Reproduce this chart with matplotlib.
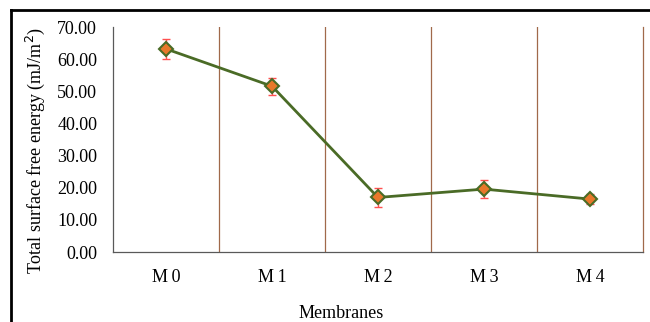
import matplotlib.pyplot as plt
from matplotlib.lines import Line2D

plt.rcParams['font.family'] = ['Liberation Serif', 'DejaVu Serif']

membranes = ["M0", "M1", "M2", "M3", "M4"]
energy = [63.2, 51.6, 17.0, 19.6, 16.5]
err = [3.0, 2.7, 3.0, 2.8, 1.6]

fig = plt.figure(figsize=(6.5, 3.22), dpi=100)
ax = fig.add_axes([0.174, 0.217, 0.815, 0.699])

x = list(range(len(membranes)))
ax.errorbar(x, energy, yerr=err, fmt="none", ecolor="#ff5050", elinewidth=1,
            capsize=3, capthick=1, zorder=2)
ax.plot(x, energy, color="#4a6b26", lw=2, marker="D", markersize=7,
        markerfacecolor="#e8782a", markeredgecolor="#4a6b26", markeredgewidth=1.5,
        zorder=3)

# category separators
for b in [0.5, 1.5, 2.5, 3.5]:
    ax.axvline(b, color="#a0694a", lw=0.9, zorder=1)

ax.set_xlim(-0.5, 4.5)
ax.set_ylim(0, 70)
ax.set_yticks(range(0, 71, 10))
ax.set_yticklabels([f"{v:.2f}" for v in range(0, 71, 10)])
ax.set_xticks(x)
ax.set_xticklabels([m[0] + "\u2009" + m[1:] for m in membranes])
ax.tick_params(length=0, labelsize=13, colors="#000000")
ax.tick_params(axis="x", pad=12)
ax.tick_params(axis="y", pad=11.5)

ax.spines["top"].set_visible(False)
ax.spines["left"].set_color("#595959")
ax.spines["bottom"].set_color("#595959")
ax.spines["right"].set_color("#a0694a")
for s in ["left", "bottom", "right"]:
    ax.spines[s].set_linewidth(0.9)

ax.set_ylabel("Total surface free energy (mJ/m$^2$)", fontsize=13)
ax.set_xlabel("Membranes", fontsize=13)
ax.yaxis.set_label_coords(-0.125, 0.45)
ax.xaxis.set_label_coords(0.43, -0.235)

# outer frame
fig.add_artist(Line2D([11 / 650, 1], [1 - 10 / 322, 1 - 10 / 322],
                      transform=fig.transFigure, color="black", lw=2))
fig.add_artist(Line2D([11 / 650, 11 / 650], [0, 1 - 10 / 322],
                      transform=fig.transFigure, color="black", lw=2))

fig.savefig("out.png", dpi=100)
